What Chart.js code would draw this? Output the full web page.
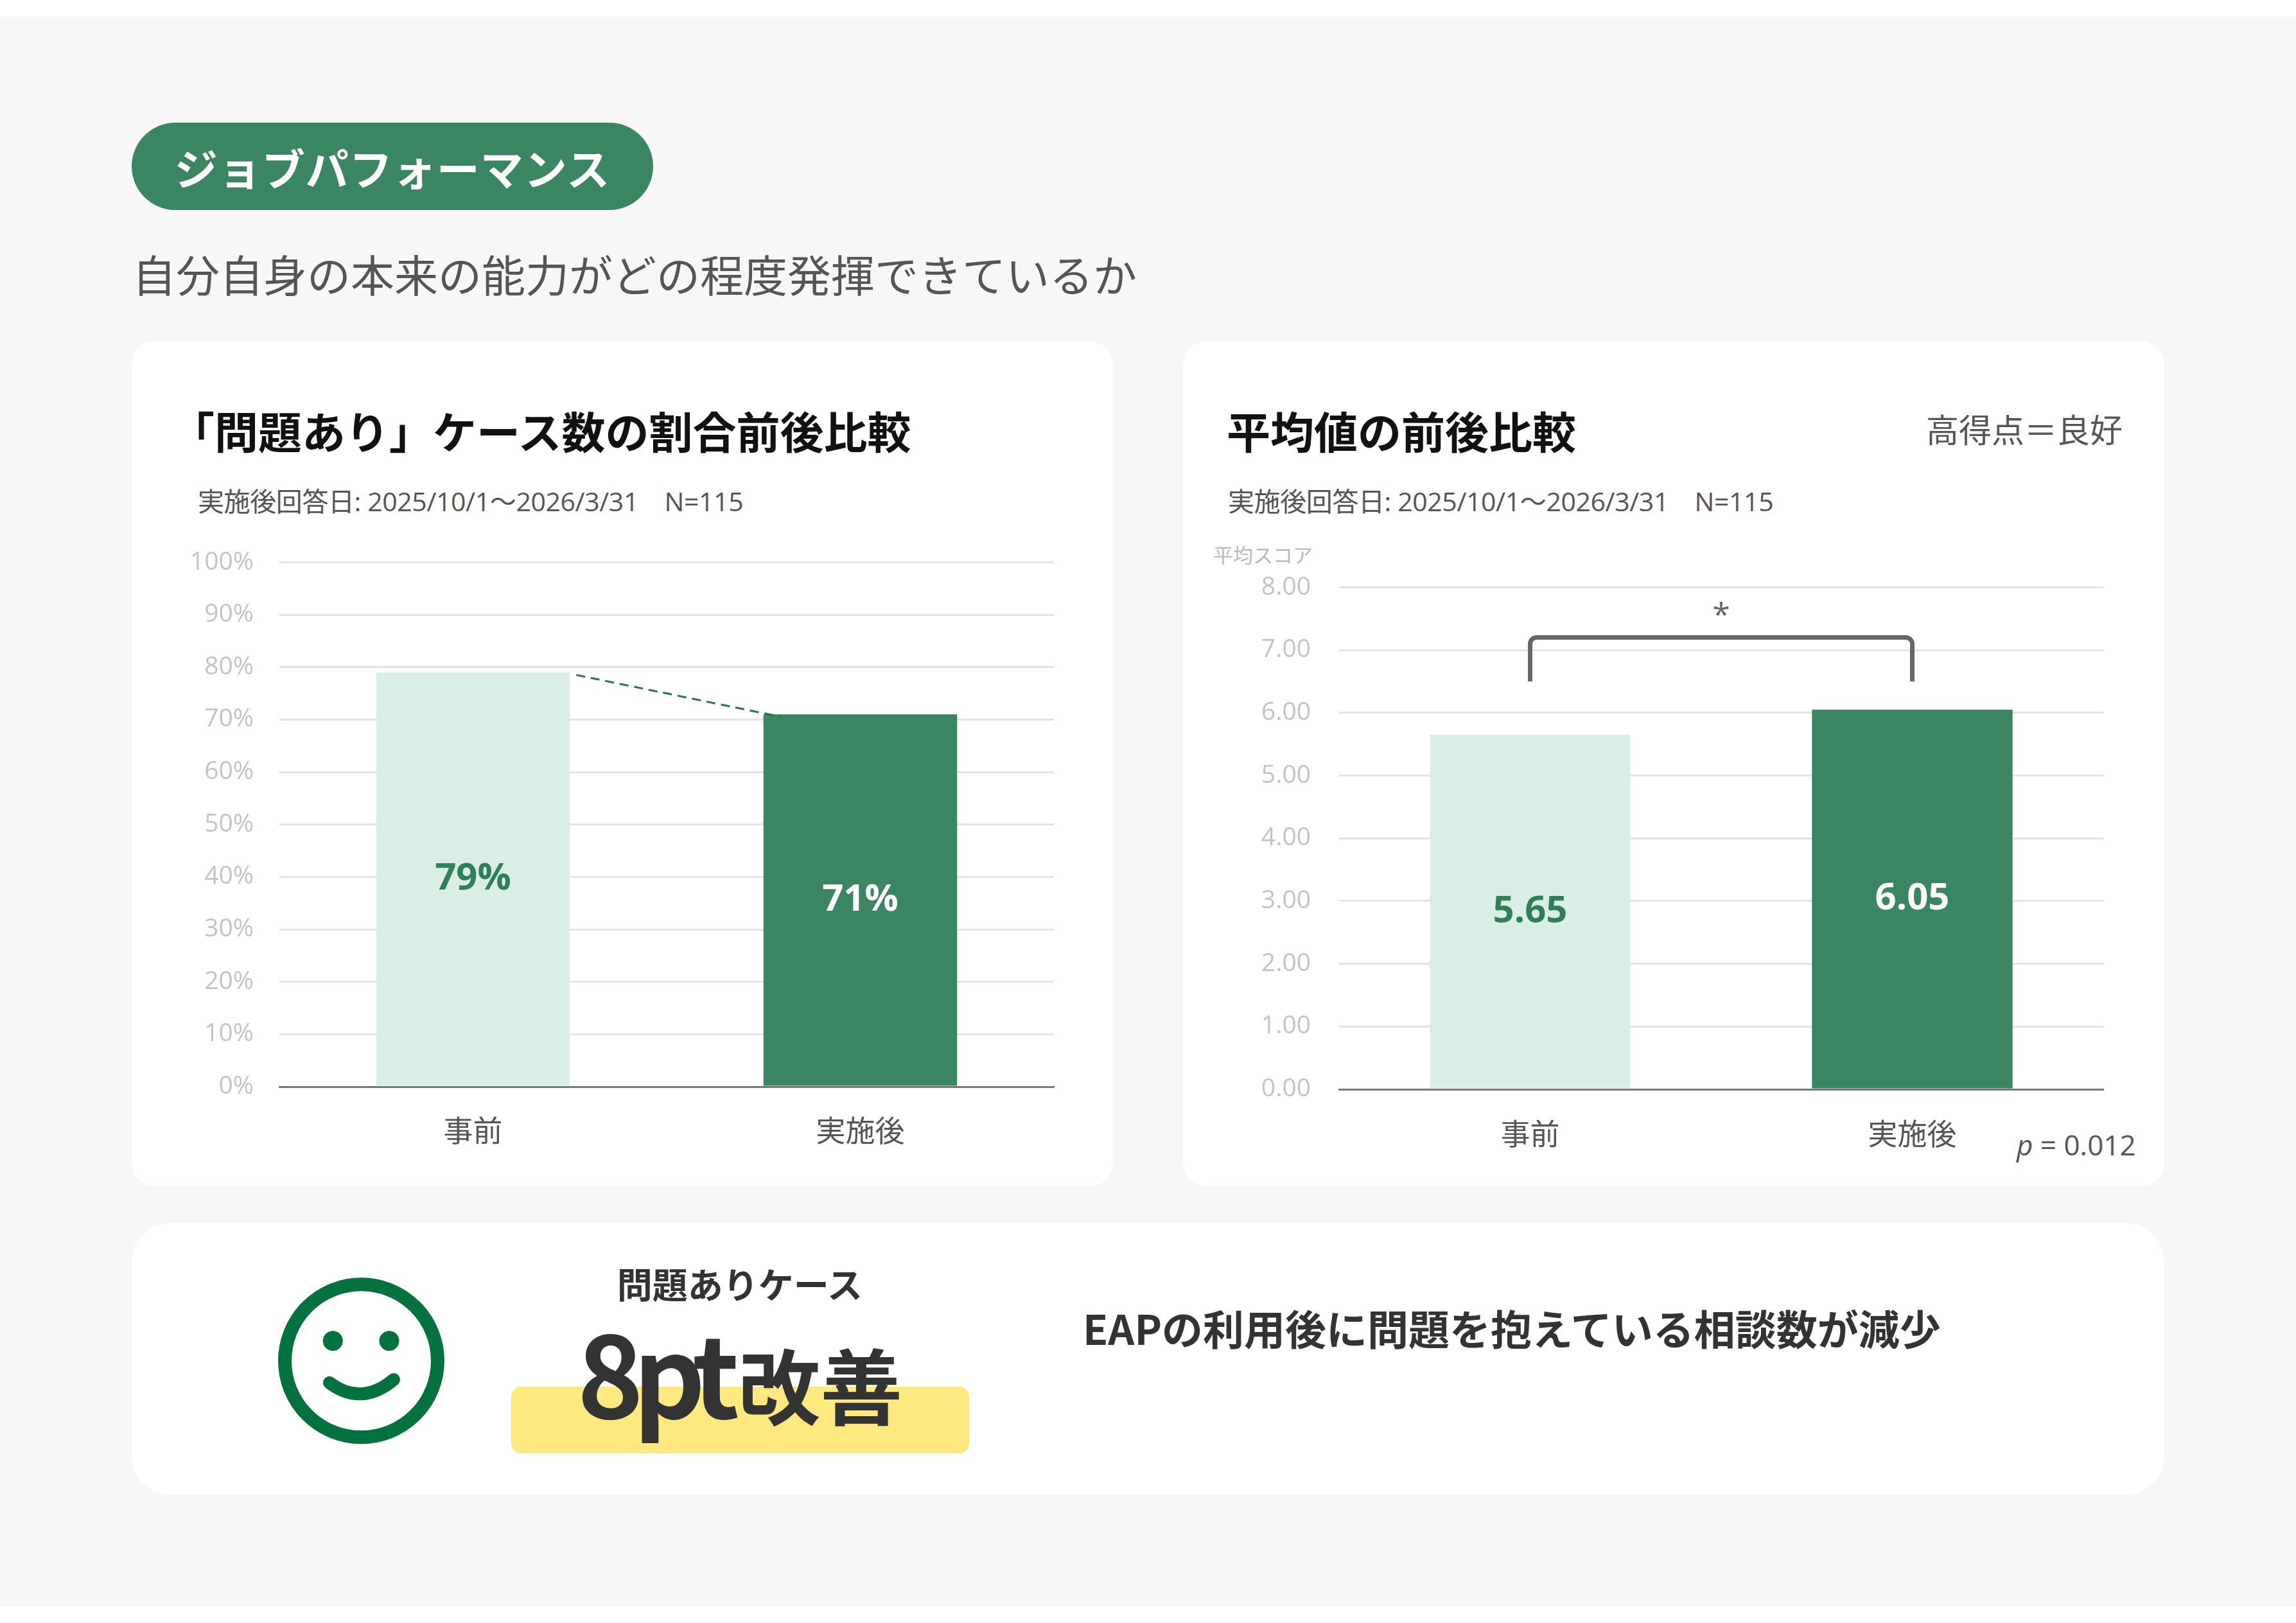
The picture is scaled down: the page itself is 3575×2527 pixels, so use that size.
<!DOCTYPE html>
<html lang="ja">
<head>
<meta charset="utf-8">
<title>ジョブパフォーマンス</title>
<script src="https://cdn.jsdelivr.net/npm/chart.js@4.4.1/dist/chart.umd.min.js"></script>
<style>
  html, body { margin: 0; padding: 0; background: #fff; }
  body { width: 3575px; height: 2527px; position: relative; overflow: hidden;
         font-family: 'Noto Sans CJK JP', sans-serif; }
  .abs { position: absolute; white-space: nowrap; line-height: 1; }
  .bg { position: absolute; left: 0; top: 26px; width: 3575px; height: 2475px; background: #f7f7f7; }
  .card { position: absolute; background: #fff; border-radius: 36px; }
  .pill { position: absolute; left: 205px; top: 191px; width: 812px; height: 136px; border-radius: 68px;
          background: #3a8562; color: #fff; font-weight: 700; font-size: 67px;
          display: flex; align-items: center; justify-content: center; letter-spacing: 1px; }
  .title { font-size: 68px; font-weight: 700; color: #111; }
  .sub { font-size: 41px; color: #555; letter-spacing: -0.4px; font-family: 'Open Sans', 'Noto Sans CJK JP', sans-serif; }
  canvas { position: absolute; }
</style>
</head>
<body>
<div class="bg"></div>

<div class="pill">ジョブパフォーマンス</div>
<div class="abs" style="left:206px; top:392px; font-size:68px; color:#555;">自分自身の本来の能力がどの程度発揮できているか</div>

<div class="card" style="left:205px; top:531px; width:1528px; height:1316px;"></div>
<div class="card" style="left:1842px; top:531px; width:1528px; height:1316px;"></div>
<div class="card" style="left:205px; top:1904px; width:3165px; height:423px; border-radius:60px;"></div>

<div class="abs title" style="left:266px; top:636px;">「問題あり」ケース数の割合前後比較</div>
<div class="abs sub" style="left:308px; top:760px;">実施後回答日: 2025/10/1～2026/3/31　N=115</div>

<div class="abs title" style="left:1910px; top:636px;">平均値の前後比較</div>
<div class="abs" style="right:270px; top:642px; font-size:51px; color:#555;">高得点＝良好</div>
<div class="abs sub" style="left:1912px; top:760px;">実施後回答日: 2025/10/1～2026/3/31　N=115</div>
<div class="abs" style="left:1889px; top:847px; font-size:31px; color:#bbb;">平均スコア</div>
<div class="abs" style="left:3140px; top:1760px; font-size:44px; color:#555; font-family:'Open Sans','Noto Sans CJK JP',sans-serif;"><i>p</i> = 0.012</div>

<!-- chart area ends up at canvas top + tick padding + half a label line -->
<canvas id="rateChart" width="1430" height="998" style="left:240px; top:812px;"></canvas>
<canvas id="scoreChart" width="1480" height="973" style="left:1860px; top:847px;"></canvas>

<!-- bottom summary -->
<svg class="abs" style="left:400px; top:1960px;" width="320" height="320" viewBox="0 0 320 320">
  <circle cx="162.5" cy="158.8" r="119" fill="none" stroke="#03723f" stroke-width="21"/>
  <circle cx="118.3" cy="127.7" r="15.5" fill="#03723f"/>
  <circle cx="206" cy="127.7" r="15.5" fill="#03723f"/>
  <path d="M113 193 Q163 230 213 188" fill="none" stroke="#03723f" stroke-width="20" stroke-linecap="round"/>
</svg>
<div class="abs" style="left:796px; top:2159px; width:713px; height:104px; border-radius:16px; background:#fee980;"></div>
<div class="abs" style="left:852px; width:600px; text-align:center; top:1970px; font-size:55px; font-weight:700; color:#333;">問題ありケース</div>
<div class="abs" style="left:752px; width:800px; text-align:center; top:2045px; font-size:175px; font-weight:700; color:#333;"><span style="letter-spacing:-16px;">8pt</span><span style="font-size:128px; margin-left:14px;">改善</span></div>
<div class="abs" style="left:1686px; top:2034px; font-size:64px; font-weight:700; color:#333;">EAPの利用後に問題を抱えている相談数が減少</div>

<script>
// --- data ---
const categories = ['事前', '実施後'];
const problemRate = [79, 71];        // 「問題あり」ケースの割合 (%)
const meanScore = [5.65, 6.05];      // 平均スコア
const rateTicks = { min: 0, max: 100, step: 10 };
const scoreTicks = { min: 0, max: 8, step: 1 };

const lightGreen = '#d9eee4';
const darkGreen = '#3a8562';
const labelGreen = '#2f7f58';

Chart.defaults.font.family = "'Open Sans', 'Noto Sans CJK JP', sans-serif";

// bar value labels, drawn at the middle of each bar
const barLabels = {
    id: 'barLabels',
    afterDatasetsDraw(chart, args, opts) {
        const ctx = chart.ctx;
        const meta = chart.getDatasetMeta(0);
        ctx.save();
        ctx.font = 'bold 58px ' + Chart.defaults.font.family;
        ctx.textAlign = 'center';
        ctx.textBaseline = 'middle';
        meta.data.forEach(function (bar, i) {
            ctx.fillStyle = opts.colors[i];
            const v = chart.data.datasets[0].data[i];
            ctx.fillText(opts.format(v), bar.x, (bar.y + bar.base) / 2);
        });
        ctx.restore();
    }
};

// dashed line between the two bar tops
const trendLine = {
    id: 'trendLine',
    afterDatasetsDraw(chart) {
        const ctx = chart.ctx;
        const meta = chart.getDatasetMeta(0);
        const a = meta.data[0], b = meta.data[1];
        ctx.save();
        ctx.strokeStyle = '#1e7a4e';
        ctx.lineWidth = 3;
        ctx.setLineDash([14, 9]);
        ctx.beginPath();
        ctx.moveTo(a.x + a.width / 2 + 10, a.y + 4);
        ctx.lineTo(b.x - b.width / 2 + 28, b.y + 4);
        ctx.stroke();
        ctx.restore();
    }
};

// significance bracket with asterisk
const sigBracket = {
    id: 'sigBracket',
    afterDatasetsDraw(chart, args, opts) {
        const ctx = chart.ctx;
        const meta = chart.getDatasetMeta(0);
        const y = chart.scales.y;
        const x1 = meta.data[0].x, x2 = meta.data[1].x;
        const top = y.getPixelForValue(opts.top);
        const bottom = y.getPixelForValue(opts.bottom);
        const r = 10;
        ctx.save();
        ctx.strokeStyle = '#666';
        ctx.lineWidth = 7;
        ctx.beginPath();
        ctx.moveTo(x1, bottom);
        ctx.arcTo(x1, top, x2, top, r);
        ctx.arcTo(x2, top, x2, bottom, r);
        ctx.lineTo(x2, bottom);
        ctx.stroke();
        ctx.fillStyle = '#666';
        ctx.font = '50px ' + Chart.defaults.font.family;
        ctx.textAlign = 'center';
        ctx.textBaseline = 'alphabetic';
        ctx.fillText('*', (x1 + x2) / 2, top - 18);
        ctx.restore();
    }
};

function xScale(pad) {
    return {
        grid: { display: false },
        border: { display: true, color: '#777', width: 3 },
        ticks: { color: '#555', font: { size: 46 }, padding: pad },
        afterFit(scale) { scale.height = 100; }
    };
}

new Chart(document.getElementById('rateChart'), {
    type: 'bar',
    data: {
        labels: categories,
        datasets: [{
            data: problemRate,
            backgroundColor: [lightGreen, darkGreen],
            barPercentage: 0.5,
            categoryPercentage: 1.0
        }]
    },
    options: {
        responsive: false,
        devicePixelRatio: 1,
        animation: false,
        layout: { padding: { top: 0, right: 29, bottom: 18, left: 0 } },
        plugins: {
            legend: { display: false },
            tooltip: { enabled: false },
            barLabels: { colors: [labelGreen, '#ffffff'], format: v => Math.round(v) + '%' }
        },
        scales: {
            x: xScale(36),
            y: {
                min: rateTicks.min, max: rateTicks.max,
                grid: { color: '#e4e4e4', lineWidth: 3, drawTicks: false },
                border: { display: false },
                ticks: { stepSize: rateTicks.step, color: '#c4c4c4', font: { size: 39 }, padding: 40,
                         callback: v => v + '%' },
                afterFit(scale) { scale.width = 195; }
            }
        }
    },
    plugins: [barLabels, trendLine]
});

new Chart(document.getElementById('scoreChart'), {
    type: 'bar',
    data: {
        labels: categories,
        datasets: [{
            data: meanScore,
            backgroundColor: [lightGreen, darkGreen],
            barPercentage: 0.525,
            categoryPercentage: 1.0
        }]
    },
    options: {
        responsive: false,
        devicePixelRatio: 1,
        animation: false,
        layout: { padding: { top: 0, right: 65, bottom: 24, left: 0 } },
        plugins: {
            legend: { display: false },
            tooltip: { enabled: false },
            barLabels: { colors: [labelGreen, '#ffffff'], format: v => v.toFixed(2) },
            sigBracket: { top: 7.2, bottom: 6.5 }
        },
        scales: {
            x: xScale(37),
            y: {
                min: scoreTicks.min, max: scoreTicks.max,
                grid: { color: '#e4e4e4', lineWidth: 3, drawTicks: false },
                border: { display: false },
                ticks: { stepSize: scoreTicks.step, color: '#c4c4c4', font: { size: 39 }, padding: 44,
                         callback: v => v.toFixed(2) },
                afterFit(scale) { scale.width = 225; }
            }
        }
    },
    plugins: [barLabels, sigBracket]
});
</script>
</body>
</html>
